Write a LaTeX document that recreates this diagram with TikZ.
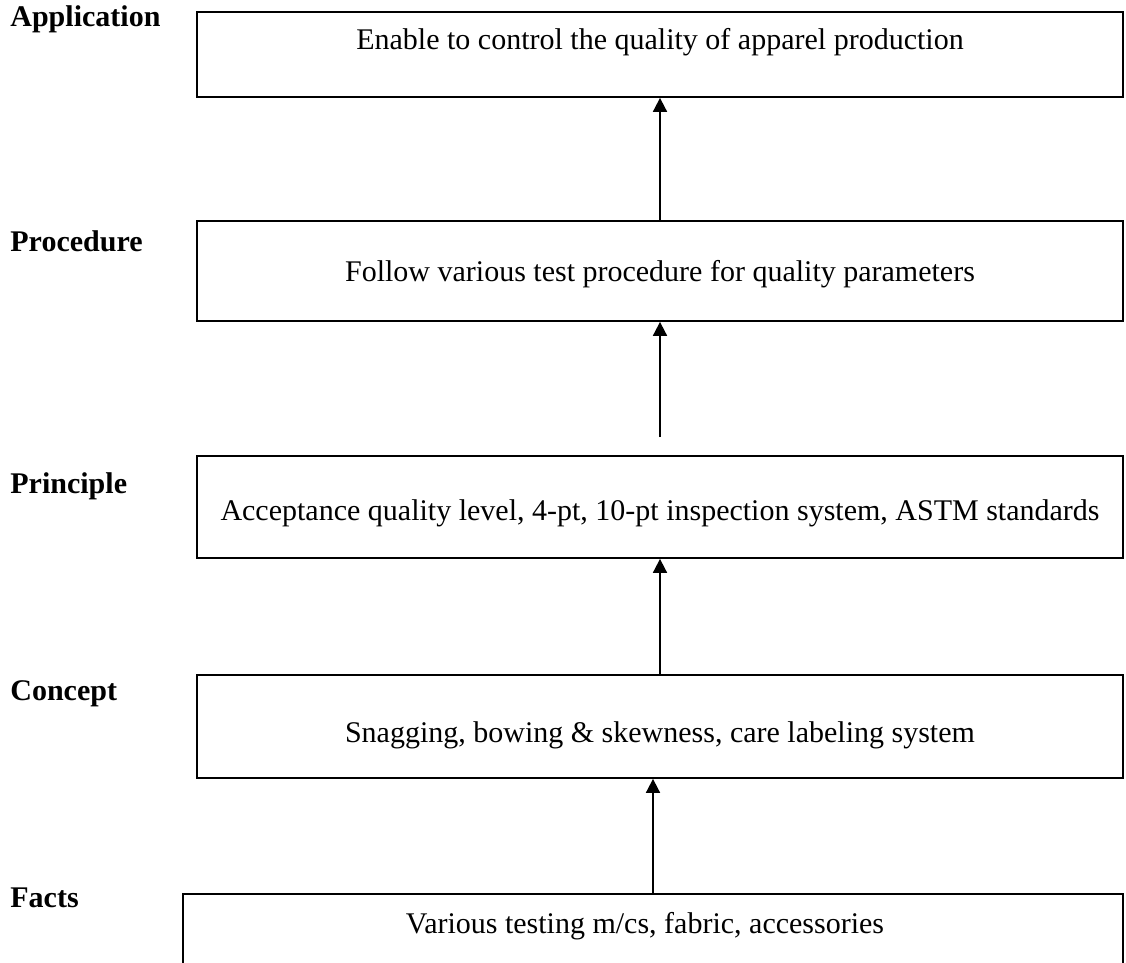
\documentclass[tikz,border=0pt]{standalone}
\usepackage{fontspec}
\setmainfont{Liberation Serif}
\usetikzlibrary{arrows.meta}

\begin{document}
\begin{tikzpicture}[x=0.5pt,y=-0.5pt,
  box/.style={draw=black, line width=0.9pt, rectangle, inner sep=0pt},
  body/.style={inner sep=0pt, anchor=base, font=\fontsize{15}{18}\selectfont},
  level/.style={inner sep=0pt, anchor=base west, font=\fontsize{15}{18}\selectfont\bfseries},
  up/.style={draw=black, line width=0.9pt, -{Triangle[width=7pt,length=7pt]}}]

\useasboundingbox (0,0) rectangle (1126,963);
\clip (0,0) rectangle (1126,963);

% level boxes
\node[box, minimum width=463pt, minimum height=42.5pt] (app)  at (660,54.5) {};
\node[box, minimum width=463pt, minimum height=50pt]   (proc) at (660,271) {};
\node[box, minimum width=463pt, minimum height=51pt]   (prin) at (660,507) {};
\node[box, minimum width=463pt, minimum height=51.5pt] (conc) at (660,726.5) {};
\node[box, minimum width=470pt, minimum height=48pt]   (fact) at (653,942) {};

% box contents
\node[body] (tapp)  at (660,50)  {Enable to control the quality of apparel production};
\node[body] (tproc) at (660,282) {Follow various test procedure for quality parameters};
\node[body] (tprin) at (660,520) {Acceptance quality level, 4-pt, 10-pt inspection system, ASTM standards};
\node[body] (tconc) at (660,742) {Snagging, bowing \& skewness, care labeling system};
\node[body] (tfact) at (645,933) {Various testing m/cs, fabric, accessories};

% level names
\node[level] (lapp)  at (10,27)  {Application};
\node[level] (lproc) at (10,252) {Procedure};
\node[level] (lprin) at (10,493) {Principle};
\node[level] (lconc) at (10,700) {Concept};
\node[level] (lfact) at (10,907) {Facts};

% connectors
\coordinate (tail) at (660,437);
\draw[up] (proc.north) -- (app.south);
\draw[up] (tail) -- (proc.south);
\draw[up] (conc.north) -- (prin.south);
\draw[up] (fact.north) -- (fact.north |- conc.south);
\end{tikzpicture}
\end{document}
